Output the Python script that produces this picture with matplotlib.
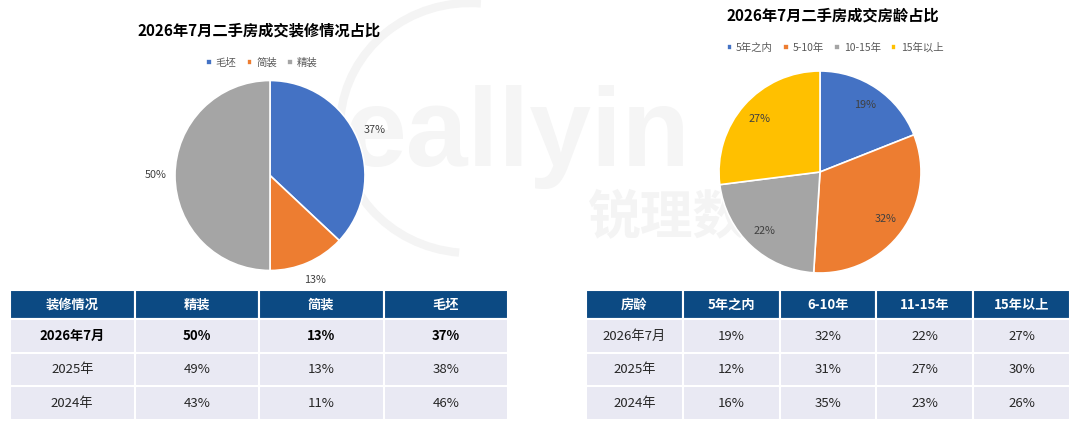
import matplotlib
matplotlib.use("Agg")
import matplotlib.pyplot as plt
from matplotlib.patches import Arc

plt.rcParams['font.family'] = ['Noto Sans CJK SC', 'DejaVu Sans']

W, H = 1080, 430

# --- data ---
deco_title = '2026年7月二手房成交装修情况占比'
deco_labels = ['毛坯', '简装', '精装']
deco_share = [37, 13, 50]

age_title = '2026年7月二手房成交房龄占比'
age_labels = ['5年之内', '5-10年', '10-15年', '15年以上']
age_share = [19, 32, 22, 27]

deco_cols = ['装修情况', '精装', '简装', '毛坯']
deco_rows = ['2026年7月', '2025年', '2024年']
deco_fine = ['50%', '49%', '43%']
deco_simple = ['13%', '13%', '11%']
deco_raw = ['37%', '38%', '46%']

age_cols = ['房龄', '5年之内', '6-10年', '11-15年', '15年以上']
age_rows = ['2026年7月', '2025年', '2024年']
age_a = ['19%', '12%', '16%']
age_b = ['32%', '31%', '35%']
age_c = ['22%', '27%', '23%']
age_d = ['27%', '30%', '26%']

BLUE, ORANGE, GRAY, YELLOW = '#4472C4', '#ED7D31', '#A5A5A5', '#FFC000'
NAVY = '#0C4A83'
ROW_BG = '#E9E9F3'


def px_axes(fig, x0, y0, x1, y1):
    # pixel box (top-left origin) -> figure axes
    return fig.add_axes([x0 / W, 1 - y1 / H, (x1 - x0) / W, (y1 - y0) / H])


fig = plt.figure(figsize=(W / 100, H / 100), dpi=100)
fig.patch.set_facecolor('white')

# faint watermark in the background (only the part that shows between the pies)
bg = fig.add_axes([0, 0, 1, 1])
bg.set_xlim(0, W)
bg.set_ylim(H, 0)
bg.axis('off')
bg.add_patch(Arc((470, 128), 260, 250, theta1=95, theta2=275, color='#F4F4F4', lw=6))
bg.text(345, 166, 'eallyin', fontsize=80, fontweight='bold', color='#F5F5F5',
        family='Liberation Sans', va='baseline', ha='left')
bg.text(588, 218, '锐理数', fontsize=38, fontweight='bold', color='#F4F4F4',
        va='center', ha='left')


def draw_pie(cx, cy, r, values, colors, pctdist, title, title_xy, labels, leg_xy):
    k = 1.3
    ax = px_axes(fig, cx - r * k, cy - r * k, cx + r * k, cy + r * k)
    wedges, _, autotexts = ax.pie(values, colors=colors, startangle=90, counterclock=False,
                                  autopct='%1.0f%%', pctdistance=pctdist,
                                  wedgeprops=dict(edgecolor='white', linewidth=1.2),
                                  textprops=dict(fontsize=7.8, color='#404040'))
    ax.set_xlim(-k, k)
    ax.set_ylim(-k, k)
    ax.set_aspect('equal')
    fig.text(title_xy[0] / W, 1 - title_xy[1] / H, title, fontsize=11, fontweight='bold',
             ha='center', va='center', color='black')
    fig.legend(wedges, labels, loc='center', bbox_to_anchor=(leg_xy[0] / W, 1 - leg_xy[1] / H),
               ncol=len(labels), frameon=False, fontsize=7.5, handlelength=0.5, handleheight=0.5,
               handletextpad=0.4, columnspacing=1.0, labelcolor='#595959')
    return ax


draw_pie(270, 175.5, 95, deco_share, [BLUE, ORANGE, GRAY], 1.2,
         deco_title, (259, 31), deco_labels, (262, 63))
draw_pie(820, 172, 101, age_share, [BLUE, ORANGE, GRAY, YELLOW], 0.8,
         age_title, (833, 16), age_labels, (835, 48))


def draw_table(x0, y0, x1, y1, cols, rows, bold_first):
    ax = px_axes(fig, x0, y0, x1, y1)
    ax.axis('off')
    tb = ax.table(cellText=rows, colLabels=cols, cellLoc='center', bbox=[0, 0, 1, 1])
    tb.auto_set_font_size(False)
    tb.set_fontsize(9.5)
    for (r, c), cell in tb.get_celld().items():
        cell.set_edgecolor('white')
        cell.set_linewidth(1.5)
        txt = cell.get_text()
        if r == 0:
            cell.set_facecolor(NAVY)
            cell.set_height(29)
            txt.set_color('white')
            txt.set_fontweight('bold')
        else:
            cell.set_facecolor(ROW_BG)
            cell.set_height(33)
            txt.set_color('#262626')
            if r == 1 and bold_first:
                txt.set_fontweight('bold')
                txt.set_color('black')
    return tb


deco_table = [[deco_rows[i], deco_fine[i], deco_simple[i], deco_raw[i]] for i in range(3)]
age_table = [[age_rows[i], age_a[i], age_b[i], age_c[i], age_d[i]] for i in range(3)]

draw_table(10, 290, 508, 420, deco_cols, deco_table, True)
draw_table(586, 290, 1070, 420, age_cols, age_table, False)

fig.savefig('out.png', dpi=100, facecolor='white')
